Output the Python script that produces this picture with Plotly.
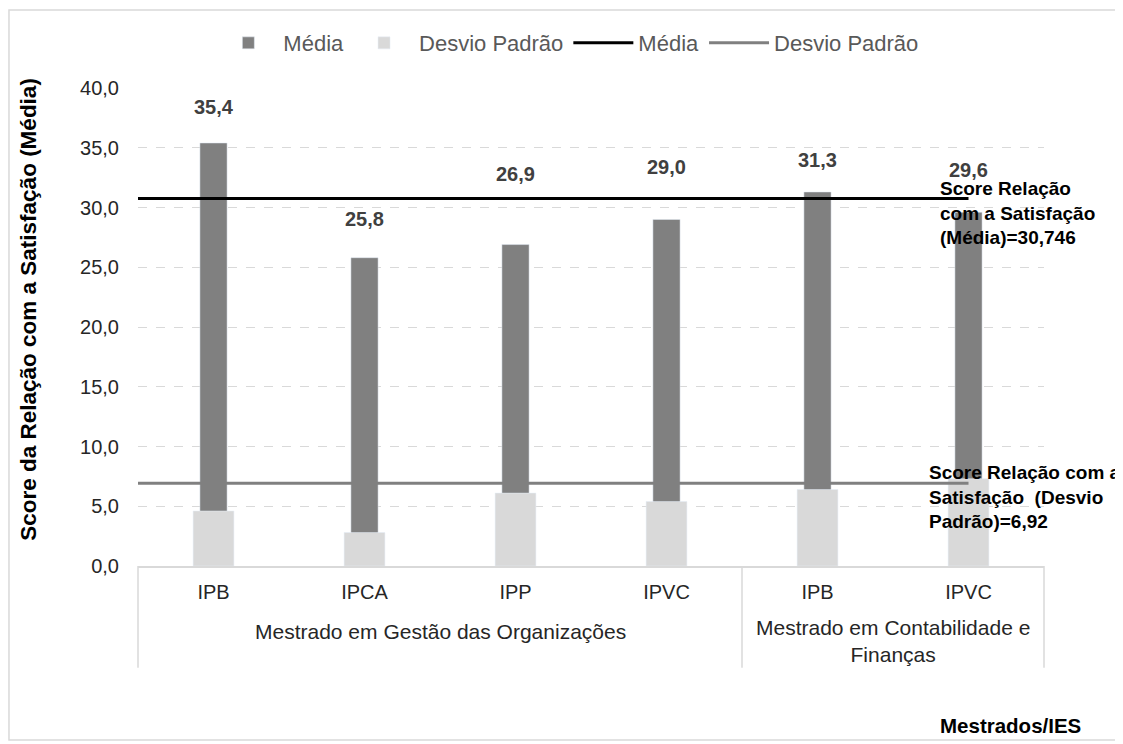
import plotly.graph_objects as go

# data
ies = ["IPB", "IPCA", "IPP", "IPVC", "IPB", "IPVC"]
mestrados = ["Mestrado em Gestão das Organizações", "Mestrado em Contabilidade e<br>Finanças"]
mestrado_size = [4, 2]
media = [35.4, 25.8, 26.9, 29.0, 31.3, 29.6]
desvio = [4.6, 2.8, 6.1, 5.4, 6.4, 7.3]
media_total = 30.746
desvio_total = 6.92
label_offset = [3.0, 3.2, 5.9, 4.4, 2.7, 3.5]

FONT = "Liberation Sans, Arial, sans-serif"
DARK = "#808080"
LIGHT = "#D9D9D9"


def fmt(v, nd=1):
    return f"{v:.{nd}f}".replace(".", ",")


x = list(range(len(ies)))
line_x = [-0.5, len(ies) - 1]

fig = go.Figure()

fig.add_trace(
    go.Bar(x=x, y=media, name="Média", marker_color=DARK, width=0.18)
)
fig.add_trace(
    go.Bar(x=x, y=desvio, name="Desvio Padrão", marker_color=LIGHT, width=0.27)
)
fig.add_trace(
    go.Scatter(x=line_x, y=[media_total] * 2, mode="lines", name="Média",
               line=dict(color="#000000", width=3))
)
fig.add_trace(
    go.Scatter(x=line_x, y=[desvio_total] * 2, mode="lines", name="Desvio Padrão",
               line=dict(color=DARK, width=3))
)

annotations = []
for i, v in enumerate(media):
    annotations.append(dict(
        x=i, y=v + label_offset[i], xref="x", yref="y", text=fmt(v),
        xanchor="center", yanchor="middle", showarrow=False,
        font=dict(family=FONT, size=20, color="#404040", weight="bold")
    ))

annotations.append(dict(
    x=0.883, y=29.5, xref="paper", yref="y", xanchor="left", yanchor="middle", align="left",
    text=f"Score Relação<br>com a Satisfação<br>(Média)={fmt(media_total, 3)}",
    showarrow=False, font=dict(family=FONT, size=19, color="#000000", weight="bold")
))
annotations.append(dict(
    x=0.871, y=5.8, xref="paper", yref="y", xanchor="left", yanchor="middle", align="left",
    text=f"Score Relação com a<br>Satisfação  (Desvio<br>Padrão)={fmt(desvio_total, 2)}",
    showarrow=False, font=dict(family=FONT, size=19, color="#000000", weight="bold")
))

# y axis title
annotations.append(dict(
    x=-0.1203, y=0.536, xref="paper", yref="paper", xanchor="center", yanchor="middle",
    text="Score da Relação com a Satisfação (Média)", textangle=-90, showarrow=False,
    font=dict(family=FONT, size=22.5, color="#000000", weight="bold")
))

# group labels under the categories
n = len(ies)
start = 0
shapes = [dict(type="line", xref="paper", yref="paper", x0=0, x1=0, y0=0, y1=-0.213,
               line=dict(color=LIGHT, width=1.5))]
for name, size in zip(mestrados, mestrado_size):
    end = start + size
    annotations.append(dict(
        x=(start + end) / 2 / n, y=-0.156 if "<br>" in name else -0.138,
        xref="paper", yref="paper", xanchor="center", yanchor="middle",
        text=name, showarrow=False,
        font=dict(family=FONT, size=21, color="#262626")
    ))
    shapes.append(dict(type="line", xref="paper", yref="paper", x0=end / n, x1=end / n,
                       y0=0, y1=-0.213, line=dict(color=LIGHT, width=1.5)))
    start = end

annotations.append(dict(
    x=1.043, y=-0.333, xref="paper", yref="paper", xanchor="right", yanchor="middle",
    text="Mestrados/IES", showarrow=False,
    font=dict(family=FONT, size=20.5, color="#000000", weight="bold")
))

# outer chart border
shapes.append(dict(type="rect", xref="paper", yref="paper", x0=-0.1424, x1=1.0839,
                   y0=-0.364, y1=1.163, line=dict(color=LIGHT, width=1.5), layer="below"))

fig.update_layout(
    width=1115,
    height=736,
    margin=dict(l=130, r=79, t=80, b=178),
    barmode="overlay",
    plot_bgcolor="white",
    paper_bgcolor="white",
    separators=",.",
    font=dict(family=FONT, size=20, color="#262626"),
    legend=dict(
        orientation="h", x=0.475, y=1.094, xanchor="center", yanchor="middle",
        font=dict(size=22, color="#595959"), bgcolor="rgba(0,0,0,0)",
        traceorder="normal", itemwidth=60
    ),
    xaxis=dict(
        range=[-0.5, 5.5], tickvals=x, ticktext=ies, showgrid=False, zeroline=False,
        showline=True, linecolor=LIGHT, linewidth=1.5, ticks="",
        ticklabelstandoff=7, tickfont=dict(size=20, color="#262626")
    ),
    yaxis=dict(
        range=[0, 40], dtick=5, tickformat=".1f", showgrid=True, gridcolor=LIGHT,
        griddash="dash", gridwidth=1, zeroline=False, showline=False, ticks="",
        ticklabelstandoff=18, tickfont=dict(size=20, color="#262626")
    ),
    annotations=annotations,
    shapes=shapes,
    showlegend=True,
)

fig.write_html("out.html")
